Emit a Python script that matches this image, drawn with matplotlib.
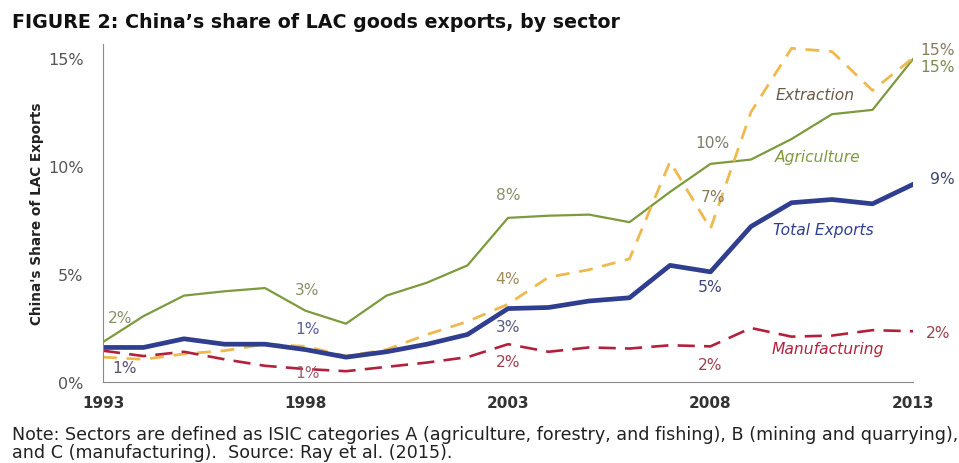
import matplotlib
matplotlib.use('Agg')
import matplotlib.pyplot as plt
import numpy as np

# datos (porcentaje de exportaciones LAC hacia China)
years = list(range(1993, 2014))
agriculture = [1.85, 3.05, 4.0, 4.2, 4.35, 3.3, 2.7, 4.0, 4.6, 5.4, 7.6, 7.7, 7.75, 7.4,
               8.8, 10.1, 10.3, 11.25, 12.4, 12.6, 14.95]
extraction = [1.15, 1.05, 1.3, 1.45, 1.75, 1.65, 1.2, 1.5, 2.2, 2.8, 3.6, 4.85, 5.2, 5.7,
              10.2, 7.1, 12.5, 15.45, 15.3, 13.5, 15.0]
total_exports = [1.6, 1.6, 2.0, 1.75, 1.75, 1.5, 1.15, 1.4, 1.75, 2.2, 3.4, 3.45, 3.75, 3.9,
                 5.4, 5.1, 7.2, 8.3, 8.45, 8.25, 9.15]
manufacturing = [1.45, 1.2, 1.4, 1.05, 0.75, 0.6, 0.5, 0.7, 0.9, 1.15, 1.75, 1.4, 1.6, 1.55,
                 1.7, 1.65, 2.5, 2.1, 2.15, 2.4, 2.35]

yticks = [0, 5, 10, 15]
ytick_labels = ['0%', '5%', '10%', '15%']
xticks = [1993, 1998, 2003, 2008, 2013]

# colores
c_agr = '#7d9a3c'
c_ext = '#efb94e'
c_tot = '#2f3e8e'
c_man = '#b3203c'

fig = plt.figure(figsize=(9.59, 4.64), dpi=100)
ax = fig.add_axes([103/959, 1 - 383/464, 810/959, 338/464])

ax.plot(years, agriculture, color=c_agr, lw=1.6, solid_joinstyle='round')
ax.plot(years, extraction, color=c_ext, lw=2.0, dashes=(5, 3.5))
ax.plot(years, total_exports, color=c_tot, lw=3.4, solid_joinstyle='round')
ax.plot(years, manufacturing, color=c_man, lw=1.9, dashes=(6.5, 3.5))

ax.set_xlim(1993, 2013)
ax.set_ylim(0, 15.65)
ax.set_yticks(yticks)
ax.set_yticklabels(ytick_labels)
ax.set_xticks(xticks)
ax.tick_params(length=0)
ax.tick_params(axis='y', pad=14, labelsize=11.5, labelcolor='#555555')
ax.tick_params(axis='x', pad=9, labelsize=11, labelcolor='#333333')
for lab in ax.get_xticklabels():
    lab.set_fontweight('bold')
ax.spines['top'].set_visible(False)
ax.spines['right'].set_visible(False)
ax.spines['left'].set_color('#8a8a8a')
ax.spines['bottom'].set_color('#8a8a8a')

fig.text(37/959, 1 - 214/464, "China's Share of LAC Exports", rotation=90,
         ha='center', va='center', fontsize=9.8, fontweight='bold',
         family=['Liberation Sans Narrow', 'DejaVu Sans'], color='#222222')

# etiquetas de valores
etiquetas = [
    (1993.42, 3.0, '2%', '#8a8f6a'),
    (1993.54, 0.69, '1%', '#5b4f6e'),
    (1998.04, 4.3, '3%', '#8a8f6a'),
    (1998.04, 2.5, '1%', '#5a5f9a'),
    (1998.04, 0.42, '1%', '#a0606e'),
    (2003.0, 8.7, '8%', '#8a8f6a'),
    (2003.0, 4.8, '4%', '#a08a5a'),
    (2003.0, 2.55, '3%', '#555a80'),
    (2003.0, 0.93, '2%', '#a0404e'),
    (2008.04, 11.1, '10%', '#7a7d6a'),
    (2008.06, 8.6, '7%', '#8a7a5a'),
    (2008.0, 4.4, '5%', '#3f4680'),
    (2008.0, 0.83, '2%', '#a0404e'),
    (2013.6, 15.4, '15%', '#8a7d60'),
    (2013.6, 14.6, '15%', '#7a8a50'),
    (2013.72, 9.4, '9%', '#3f4670'),
    (2013.62, 2.27, '2%', '#a0404e'),
]
for x, y, t, c in etiquetas:
    ax.text(x, y, t, ha='center', va='center', fontsize=11.2, color=c, clip_on=False)

# nombres de las series
ax.text(2010.58, 13.33, 'Extraction', ha='center', va='center', fontsize=11.2,
        style='italic', color='#6b5a4a')
ax.text(2010.65, 10.46, 'Agriculture', ha='center', va='center', fontsize=11.2,
        style='italic', color=c_agr)
ax.text(2010.78, 7.08, 'Total Exports', ha='center', va='center', fontsize=11.2,
        style='italic', color=c_tot)
ax.text(2010.9, 1.53, 'Manufacturing', ha='center', va='center', fontsize=11.2,
        style='italic', color=c_man)

fig.text(12/959, 1 - 22/464, 'FIGURE 2: China\u2019s share of LAC goods exports, by sector',
         ha='left', va='center', fontsize=13.7, fontweight='bold', color='#111111')
fig.text(12/959, 1 - 435/464,
         'Note: Sectors are defined as ISIC categories A (agriculture, forestry, and fishing), '
         'B (mining and quarrying),',
         ha='left', va='center', fontsize=12.6, color='#222222')
fig.text(12/959, 1 - 453/464,
         'and C (manufacturing).  Source: Ray et al. (2015).',
         ha='left', va='center', fontsize=12.6, color='#222222')

fig.savefig('out.png', dpi=100)
